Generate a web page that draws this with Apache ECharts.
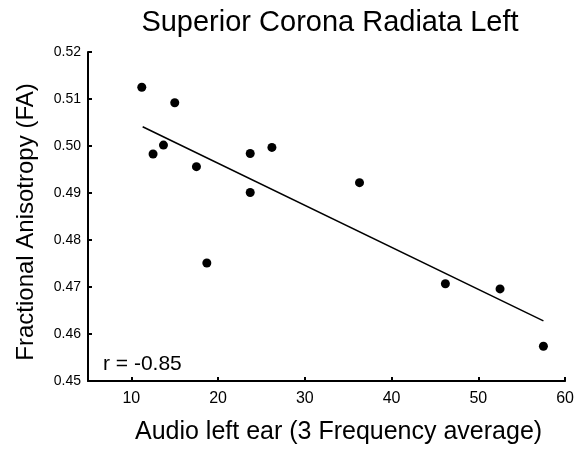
<!DOCTYPE html>
<html>
<head>
<meta charset="utf-8">
<script src="https://cdn.jsdelivr.net/npm/echarts@6/dist/echarts.min.js"></script>
<style>
  html, body { margin: 0; padding: 0; background: #fff; }
  #chart { width: 577px; height: 450px; }
</style>
</head>
<body>
<div id="chart"></div>
<script>
// audio threshold (left ear, 3 frequency average) vs FA
const audioLeft = [11.2, 15.0, 12.5, 13.7, 17.5, 23.7, 26.2, 23.7, 18.7, 36.3, 46.2, 52.5, 57.5]
const faValues = [0.5125, 0.5092, 0.4983, 0.5002, 0.4956, 0.4984, 0.4997, 0.4901, 0.4751, 0.4922, 0.4707, 0.4696, 0.4574]

// fitted line end points as drawn
const fitX = [11.3, 57.5]
const fitY = [0.5041, 0.4628]

const xTicks = [10, 20, 30, 40, 50, 60]
const corrLabel = 'r = -0.85'

const font = '"Liberation Sans", Arial, sans-serif'
const chart = echarts.init(document.getElementById('chart'))

chart.setOption({
  animation: false,
  backgroundColor: '#fff',
  title: {
    text: 'Superior Corona Radiata Left',
    left: 325,
    top: 3,
    textAlign: 'center',
    textStyle: { fontFamily: font, fontSize: 29, fontWeight: 'normal', color: '#000' }
  },
  grid: { left: 88, right: 9, top: 52, bottom: 65 },
  xAxis: {
    type: 'value',
    min: 5,
    max: 60,
    name: 'Audio left ear (3 Frequency average)',
    nameLocation: 'middle',
    nameGap: 39,
    nameTextStyle: { fontFamily: font, fontSize: 25, color: '#000', padding: [0, 0, 0, 24] },
    axisLine: { onZero: false, lineStyle: { color: '#000', width: 2 } },
    axisTick: { inside: true, length: 4, customValues: xTicks, lineStyle: { color: '#000', width: 2 } },
    axisLabel: { customValues: xTicks, margin: 10, fontFamily: font, fontSize: 16, color: '#000' },
    splitLine: { show: false }
  },
  yAxis: {
    type: 'value',
    min: 0.45,
    max: 0.52,
    interval: 0.01,
    name: 'Fractional Anisotropy (FA)',
    nameLocation: 'middle',
    nameGap: 50,
    nameTextStyle: { fontFamily: font, fontSize: 24, color: '#000', padding: [0, 11, 0, 0] },
    axisLine: { show: true, onZero: false, lineStyle: { color: '#000', width: 2 } },
    axisTick: { show: true, inside: true, length: 4, lineStyle: { color: '#000', width: 2 } },
    axisLabel: {
      margin: 7,
      fontFamily: font,
      fontSize: 14,
      color: '#000',
      formatter: v => v.toFixed(2)
    },
    splitLine: { show: false }
  },
  graphic: [{
    type: 'text',
    left: 103,
    top: 354,
    style: { text: corrLabel, fontFamily: font, fontSize: 21, fill: '#000' }
  }],
  series: [
    {
      type: 'line',
      data: fitX.map((x, i) => [x, fitY[i]]),
      symbol: 'none',
      lineStyle: { color: '#000', width: 1.5 },
      z: 1
    },
    {
      type: 'scatter',
      data: audioLeft.map((x, i) => [x, faValues[i]]),
      symbolSize: 9,
      itemStyle: { color: '#000', opacity: 1 },
      z: 2
    }
  ]
})
</script>
</body>
</html>
